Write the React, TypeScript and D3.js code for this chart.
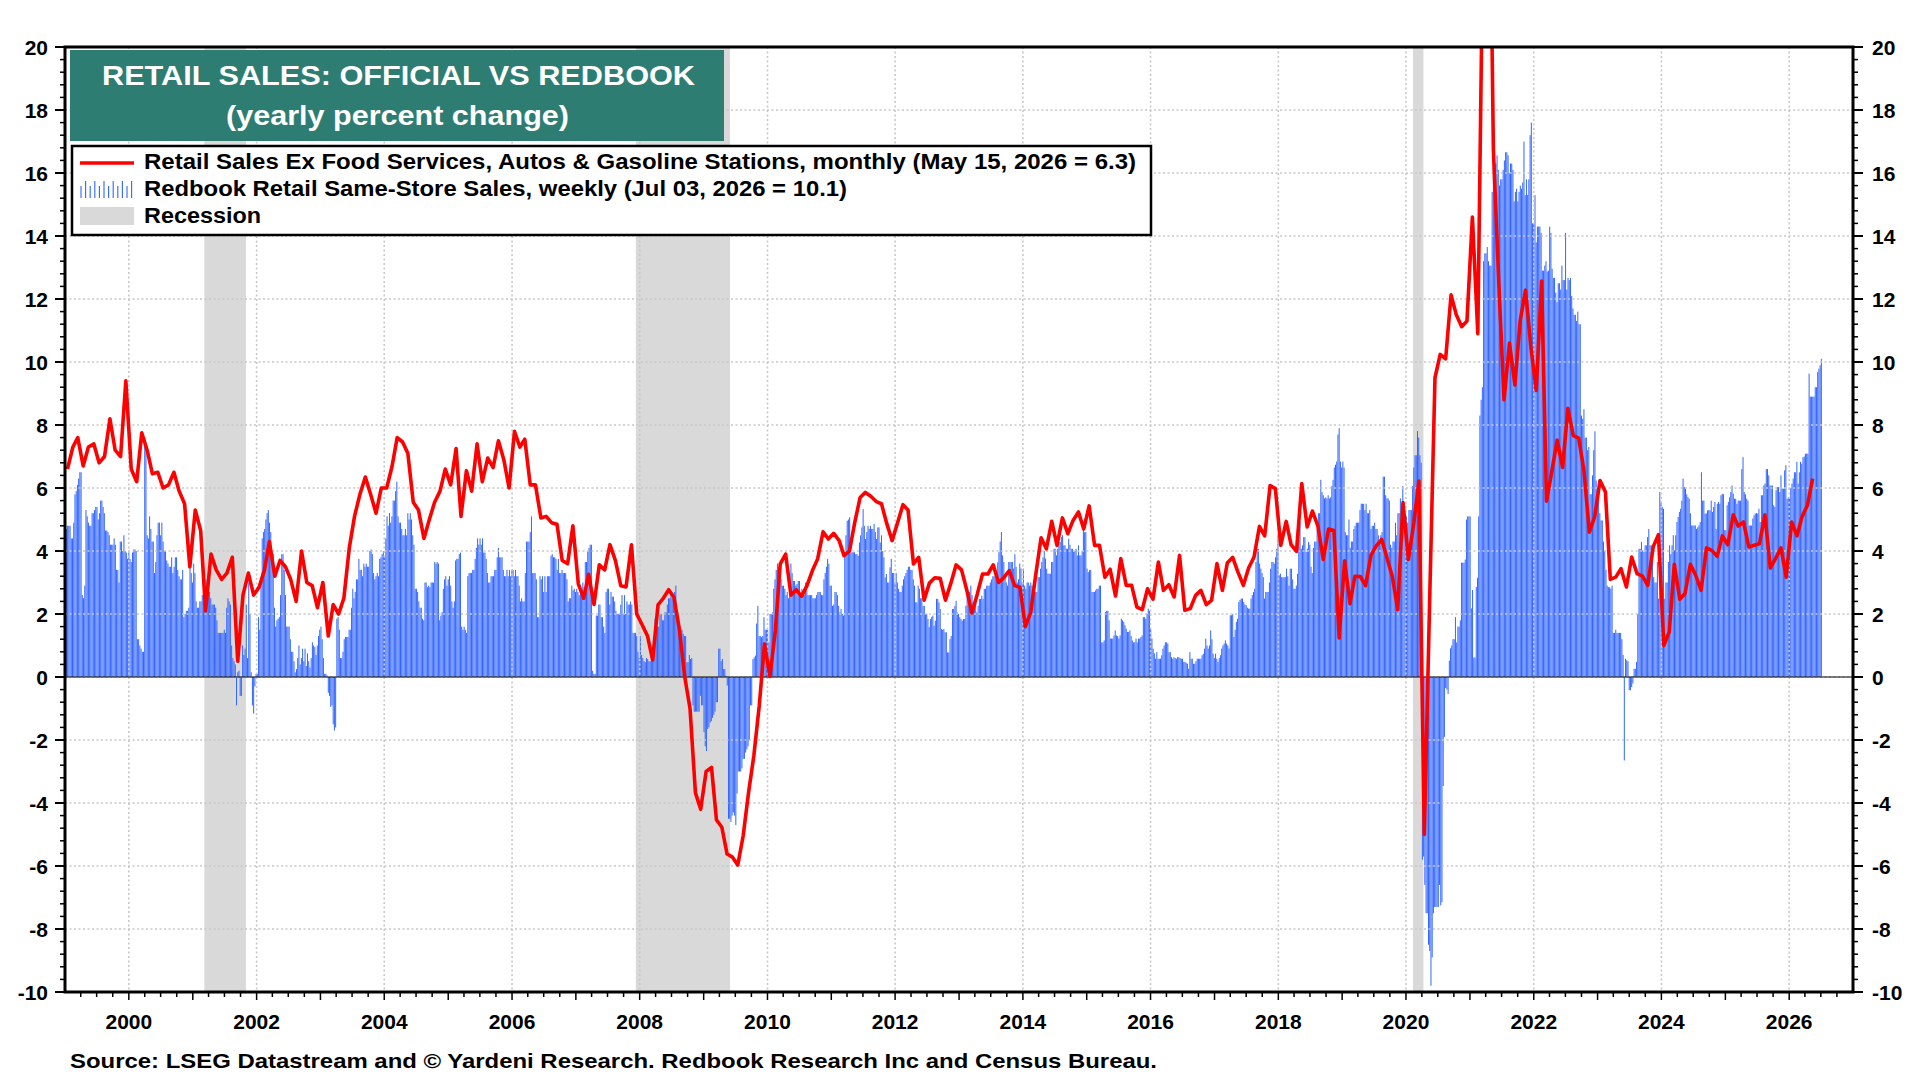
import React, { useRef, useEffect } from "react";
import * as d3 from "d3";

// Retail Sales ex food services, autos & gasoline stations, y/y %, one row per year (Jan..Dec)
const retailYears = d3.range(1999, 2027);
const retailMonthly: number[][] = [
  [6.6, 7.3, 7.6, 6.7, 7.3, 7.4, 6.8, 7.0, 8.2, 7.2, 7.0, 9.4],
  [6.6, 6.2, 7.75, 7.2, 6.45, 6.5, 6.0, 6.1, 6.5, 5.9, 5.5, 3.5],
  [5.3, 4.65, 2.1, 3.9, 3.4, 3.1, 3.3, 3.8, 0.5, 2.6, 3.3, 2.6],
  [2.85, 3.4, 4.3, 3.2, 3.7, 3.5, 3.1, 2.4, 4.0, 3.0, 2.9, 2.2],
  [3.0, 1.3, 2.3, 2.0, 2.5, 4.1, 5.1, 5.8, 6.35, 5.8, 5.2, 6.0],
  [6.0, 6.7, 7.6, 7.46, 7.1, 5.55, 5.3, 4.4, 5.0, 5.55, 5.9, 6.6],
  [6.1, 7.25, 5.1, 6.55, 5.9, 7.4, 6.2, 6.95, 6.65, 7.5, 6.9, 6.0],
  [7.8, 7.3, 7.55, 6.1, 6.1, 5.05, 5.1, 4.9, 4.85, 3.7, 3.6, 4.8],
  [2.96, 2.5, 3.26, 2.3, 3.56, 3.4, 4.2, 3.7, 2.9, 2.86, 4.2, 2.0],
  [1.66, 1.3, 0.54, 2.29, 2.5, 2.77, 2.53, 1.52, 0.0, -1.0, -3.68, -4.2],
  [-3.0, -2.87, -4.53, -4.77, -5.62, -5.72, -5.97, -5.04, -3.66, -2.5, -0.91, 1.05],
  [0.02, 1.47, 3.59, 3.9, 2.6, 2.77, 2.56, 2.9, 3.38, 3.75, 4.61, 4.38],
  [4.56, 4.33, 3.85, 4.0, 4.9, 5.7, 5.86, 5.74, 5.57, 5.5, 4.86, 4.33],
  [4.9, 5.47, 5.3, 3.59, 3.8, 2.44, 2.98, 3.15, 3.13, 2.44, 2.98, 3.56],
  [3.4, 2.74, 2.03, 2.63, 3.27, 3.27, 3.56, 3.0, 3.16, 3.38, 2.9, 2.85],
  [1.6, 2.06, 3.23, 4.42, 4.07, 4.94, 4.18, 5.05, 4.55, 4.97, 5.24, 4.7],
  [5.43, 4.18, 4.18, 3.17, 3.42, 2.57, 3.76, 2.91, 2.91, 2.22, 2.14, 2.8],
  [2.47, 3.65, 2.75, 2.93, 2.54, 3.86, 2.12, 2.17, 2.59, 2.75, 2.3, 2.43],
  [3.6, 2.75, 3.62, 3.8, 3.33, 2.91, 3.46, 3.81, 4.78, 4.48, 6.08, 5.98],
  [4.18, 4.94, 4.2, 3.99, 6.14, 4.76, 5.27, 4.8, 3.73, 4.7, 4.65, 1.24],
  [3.69, 2.33, 3.2, 3.19, 2.9, 3.87, 4.16, 4.37, 3.77, 3.19, 2.14, 5.54],
  [3.73, 4.9, 6.22, -5.0, 2.3, 9.5, 10.24, 10.1, 12.13, 11.5, 11.12, 11.3],
  [14.6, 10.9, 23.0, 30.0, 16.75, 12.5, 8.8, 10.6, 9.27, 11.3, 12.28, 10.5],
  [9.1, 12.57, 5.58, 6.55, 7.52, 6.65, 8.53, 7.66, 7.58, 6.56, 4.6, 5.08],
  [6.24, 5.87, 3.1, 3.17, 3.44, 2.86, 3.81, 3.28, 3.2, 2.91, 4.13, 4.52],
  [1.0, 1.43, 3.58, 2.47, 2.65, 3.58, 3.23, 2.75, 4.1, 4.02, 3.83, 4.48],
  [4.2, 5.15, 4.79, 4.92, 4.13, 4.18, 4.23, 5.15, 3.46, 3.76, 4.1, 3.17],
  [4.92, 4.48, 5.08, 5.45, 6.3],
];

// Redbook same-store sales, y/y %, one row per year, one value per Saturday
const redbookYears = d3.range(1999, 2027);
const redbookWeekly: number[][] = [
  [4.5, 4.7, 4.8, 4.8, 4.8, 4.4, 4.4, 4.9, 5.8, 5.9, 6.1, 6.3, 6.5, 6.5, 2.6, 2.5, 2.9, 5.3, 5.1, 4.9, 4.8, 4.8, 5.2, 5.2, 5.3, 5.4,
    5.4, 5.0, 5.2, 5.6, 5.6, 5.4, 5.2, 4.65, 4.65, 4.6, 4.5, 4.2, 4.2, 4.2, 4.4, 4.2, 3.4, 3.4, 3.0, 4.3, 4.3, 4.0, 4.5, 4.0, 3.95, 3.75],
  [3.95, 3.75, 3.65, 3.95, 4.05, 4.05, 4.0, 1.2, 1.2, 1.0, 0.9, 0.8, 0.8, 7.6, 7.4, 4.5, 4.4, 5.1, 4.7, 4.3, 4.3, 3.3, 3.65, 4.5, 4.9, 4.9,
    4.5, 4.9, 4.3, 4.0, 4.0, 3.7, 3.6, 3.5, 3.5, 3.8, 3.3, 3.5, 3.8, 3.8, 3.4, 3.2, 3.1, 3.1, 3.4, 1.9, 2.0, 2.1, 2.1, 2.2, 3.6, 3.3, 3.0],
  [3.6, 3.3, 2.4, 2.2, 2.2, 2.4, 2.4, 2.6, 2.8, 2.9, 3.1, 3.0, 2.8, 2.7, 2.5, 2.3, 2.3, 2.3, 2.2, 1.8, 1.4, 1.4, 1.4, 1.4, 1.4, 1.5,
    1.4, 2.2, 2.5, 2.4, 2.3, 1.0, 0.6, 0.5, 0.4, -0.9, 0.15, 0.2, -0.6, -0.6, 1.0, 0.7, 0.9, 2.3, 0.6, 3.0, 2.0, 0.15, -0.9, -1.16, -0.3, 0.1],
  [0.1, 1.9, 1.5, 3.0, 4.4, 4.6, 4.7, 5.0, 5.2, 5.3, 4.9, 4.6, 3.9, 3.9, 2.2, 1.6, 1.8, 1.85, 1.9, 2.6, 3.9, 3.9, 3.4, 2.6, 1.6, 1.6,
    1.6, 1.2, 0.8, 0.8, 0.5, 0.15, 0.25, 0.6, 1.0, 0.4, 0.6, 0.9, 0.5, 0.9, 0.35, 0.75, 0.5, 0.3, 0.6, 1.1, 1.0, 0.95, 0.7, 1.0, 1.3, 1.5],
  [1.6, 1.2, 0.6, 0.1, 0.1, 0.05, -0.5, -0.6, -0.95, -0.9, -1.5, -1.7, -1.6, 1.85, 1.9, 1.5, 0.6, 0.6, 0.8, 1.2, 1.27, 1.27, 1.27, 1.5, 1.5, 2.2,
    2.8, 2.5, 2.7, 3.1, 3.1, 3.75, 3.4, 3.4, 3.2, 3.6, 3.5, 3.6, 3.5, 3.5, 4.0, 4.05, 3.9, 3.3, 3.1, 3.2, 3.3, 3.2, 3.75, 3.8, 3.9, 4.0],
  [3.8, 4.4, 5.1, 4.8, 5.2, 4.9, 5.1, 5.6, 5.6, 5.9, 6.2, 5.1, 4.9, 4.9, 4.7, 4.5, 4.5, 4.7, 4.5, 5.2, 5.0, 5.2, 5.0, 4.5, 4.2, 2.8,
    2.8, 2.7, 2.4, 2.2, 2.2, 1.85, 1.8, 3.0, 3.0, 2.85, 2.9, 2.85, 3.0, 3.0, 3.0, 3.65, 3.6, 3.65, 3.6, 1.8, 1.95, 2.06, 2.8, 3.1, 3.2, 2.9],
  [3.1, 3.2, 2.9, 2.4, 2.2, 2.4, 3.7, 3.75, 3.75, 3.9, 3.95, 1.6, 1.5, 1.6, 1.5, 1.4, 3.2, 3.3, 3.3, 3.3, 3.4, 3.4, 3.75, 4.1, 4.4, 4.2,
    4.4, 4.2, 4.4, 3.95, 3.95, 3.75, 3.3, 3.0, 3.0, 3.2, 3.2, 3.2, 3.4, 3.4, 3.8, 4.1, 3.8, 3.8, 3.8, 3.4, 3.2, 3.2, 3.4, 3.2, 3.4, 3.2, 3.4],
  [3.4, 3.2, 3.4, 3.2, 3.2, 2.9, 2.4, 2.5, 2.4, 2.4, 3.3, 4.3, 4.3, 4.3, 4.6, 5.1, 3.3, 3.3, 3.3, 3.1, 1.9, 1.9, 3.2, 3.1, 3.2, 2.7,
    3.2, 2.7, 3.2, 3.2, 3.2, 3.85, 3.9, 3.8, 3.8, 3.75, 3.4, 3.75, 3.3, 3.3, 3.4, 3.3, 3.3, 3.3, 3.1, 2.4, 2.5, 2.5, 2.9, 2.75, 2.8, 2.7],
  [2.8, 2.7, 2.6, 2.7, 2.7, 3.0, 2.85, 3.65, 3.65, 4.0, 4.1, 4.2, 4.2, 0.2, 0.1, 0.1, 1.95, 1.95, 2.3, 2.3, 1.9, 1.9, 1.6, 1.4, 2.7, 2.8,
    2.8, 2.3, 2.7, 2.55, 2.55, 2.4, 2.1, 2.0, 2.0, 2.0, 2.3, 2.6, 2.0, 2.6, 2.0, 2.4, 2.3, 2.3, 2.4, 2.3, 1.4, 1.4, 1.4, 1.3, 0.8, 0.6],
  [1.3, 0.7, 0.6, 0.5, 0.47, 0.6, 0.57, 0.5, 0.5, 0.55, 0.7, 1.0, 1.85, 1.9, 1.6, 1.6, 2.0, 2.0, 1.8, 1.8, 2.05, 2.05, 2.3, 2.5, 2.5, 2.6,
    2.5, 2.6, 2.7, 2.9, 1.85, 1.6, 1.6, 1.5, 1.5, 1.37, 1.3, 1.3, 0.47, 0.47, 0.7, 0.57, 0.6, -0.9, -1.1, -1.1, -1.1, -1.1, -1.1, -0.6, -0.9, -0.9],
  [-1.75, -2.2, -2.35, -1.65, -1.6, -1.45, -1.4, -1.3, -1.2, -1.1, -0.8, -0.8, 0.9, 0.9, 0.5, 0.57, 0.25, 0.25, 0.04, -0.27, -4.5, -4.5, -4.6, -4.4, -4.3, -4.4,
    -4.7, -3.7, -3.0, -3.0, -3.0, -2.9, -2.6, -2.6, -2.4, -2.3, -2.2, -2.0, -0.9, -0.9, 0.57, 0.62, 0.68, 1.7, 2.26, 1.3, 1.3, 1.26, 1.3, 1.9, 1.5, 1.5],
  [1.5, 1.1, 2.0, 2.0, 2.05, 2.8, 3.1, 3.4, 3.6, 3.5, 3.3, 3.1, 2.9, 2.9, 2.8, 2.6, 2.7, 2.5, 2.9, 3.6, 3.3, 3.05, 3.05, 2.9, 2.95, 3.05,
    3.05, 2.6, 2.8, 2.7, 2.6, 3.0, 2.75, 2.6, 2.6, 2.6, 2.6, 2.5, 2.5, 2.5, 2.6, 2.7, 2.7, 2.7, 2.6, 2.6, 3.1, 3.3, 3.5, 3.75, 3.6, 2.9],
  [2.9, 2.26, 2.3, 2.7, 2.7, 2.6, 2.26, 2.05, 2.16, 2.0, 1.95, 3.85, 4.5, 4.96, 5.0, 5.07, 3.96, 3.96, 3.96, 3.96, 3.9, 3.9, 3.85, 4.27, 4.5, 4.75,
    5.33, 4.8, 4.38, 4.6, 4.8, 4.7, 4.8, 4.7, 4.7, 4.86, 4.6, 4.38, 4.75, 4.75, 4.27, 4.5, 4.0, 3.8, 3.16, 3.27, 3.0, 3.0, 3.48, 3.75, 3.3, 3.3, 3.0],
  [3.3, 3.0, 2.8, 2.7, 2.7, 2.9, 3.1, 3.2, 3.3, 3.4, 3.5, 3.5, 3.4, 3.4, 3.1, 2.9, 2.37, 2.37, 2.9, 2.8, 2.5, 2.5, 2.26, 2.26, 2.0, 2.0,
    1.84, 1.58, 1.84, 1.9, 1.95, 1.63, 1.79, 2.48, 2.48, 2.37, 2.16, 1.52, 1.5, 1.52, 1.42, 1.42, 0.78, 0.78, 1.2, 1.3, 2.16, 2.16, 2.26, 2.42, 2.05, 2.0],
  [1.9, 1.84, 1.79, 1.84, 1.84, 2.26, 2.8, 2.7, 2.7, 2.9, 2.6, 2.37, 2.4, 2.37, 2.05, 2.26, 2.48, 2.48, 2.58, 2.48, 2.8, 2.8, 2.9, 2.9, 2.9, 3.0,
    3.1, 3.2, 3.2, 3.38, 3.38, 3.64, 3.96, 4.3, 4.6, 3.86, 3.65, 3.2, 3.0, 2.9, 3.65, 3.65, 3.65, 3.65, 3.44, 3.9, 3.5, 3.0, 3.1, 3.6, 3.44, 3.0],
  [3.44, 2.9, 2.8, 3.0, 3.0, 2.9, 3.0, 2.9, 2.7, 2.7, 2.7, 2.7, 3.17, 3.17, 3.44, 3.65, 3.8, 4.0, 3.76, 3.44, 3.28, 3.28, 3.28, 3.65, 3.65, 4.07,
    4.07, 3.86, 4.07, 4.29, 4.29, 4.44, 4.5, 4.18, 4.18, 4.07, 4.07, 4.39, 4.2, 4.07, 4.07, 3.97, 4.0, 4.07, 3.86, 4.18, 3.86, 3.86, 4.0, 4.7, 4.6, 4.6],
  [3.44, 3.33, 3.39, 3.4, 2.7, 2.7, 2.7, 2.75, 2.8, 2.8, 2.9, 2.9, 1.1, 1.1, 1.16, 2.06, 2.1, 2.1, 1.8, 1.22, 1.22, 1.22, 1.32, 1.48, 1.32, 1.3,
    1.22, 1.32, 1.85, 1.8, 1.75, 1.64, 1.53, 1.43, 1.43, 1.48, 1.3, 1.16, 1.1, 1.1, 1.22, 1.1, 1.22, 1.22, 1.27, 1.32, 1.9, 1.9, 1.85, 2.0, 2.17, 2.1],
  [1.53, 1.22, 0.9, 0.75, 0.58, 0.79, 0.58, 0.58, 0.58, 0.69, 0.9, 1.0, 1.1, 1.1, 1.06, 0.79, 0.79, 0.63, 0.58, 0.63, 0.6, 0.58, 0.63, 0.63, 0.6, 0.58,
    0.58, 0.48, 0.48, 0.45, 0.42, 0.26, 0.79, 0.58, 0.58, 0.42, 0.42, 0.5, 0.58, 0.58, 0.58, 0.58, 0.69, 0.74, 0.9, 1.22, 1.0, 0.9, 1.0, 1.48, 1.2, 0.74, 0.6],
  [0.74, 0.58, 0.48, 0.6, 0.69, 0.9, 1.0, 1.06, 1.16, 1.06, 1.0, 0.9, 1.96, 1.96, 2.0, 1.27, 1.5, 1.75, 1.85, 2.38, 2.45, 2.49, 2.49, 2.38, 2.3, 2.28,
    2.2, 2.17, 2.17, 2.49, 2.6, 2.7, 2.8, 3.65, 4.07, 4.07, 3.6, 3.44, 3.3, 3.17, 2.49, 2.7, 2.7, 2.7, 3.0, 3.44, 3.65, 3.65, 3.6, 3.8, 4.07, 4.5],
  [3.23, 3.28, 3.17, 3.17, 3.17, 3.17, 3.44, 3.2, 2.9, 3.44, 3.44, 3.1, 2.8, 2.8, 2.9, 3.28, 4.92, 4.92, 4.07, 4.18, 4.44, 4.44, 3.97, 4.07, 4.29, 4.2,
    3.5, 3.3, 4.1, 4.3, 4.3, 4.7, 5.2, 5.2, 6.26, 5.87, 5.77, 5.67, 5.7, 5.67, 5.77, 5.67, 5.7, 6.06, 6.26, 6.65, 6.74, 6.84, 7.7, 7.9, 6.84, 6.65],
  [6.84, 6.65, 4.6, 4.5, 4.5, 5.0, 4.1, 4.3, 4.3, 4.7, 4.8, 4.9, 4.9, 4.9, 5.3, 5.5, 5.5, 5.5, 5.3, 5.5, 5.2, 5.2, 5.3, 4.7, 4.8, 4.8,
    4.9, 4.7, 4.7, 4.5, 4.3, 4.5, 4.6, 6.36, 6.36, 5.77, 5.67, 5.67, 5.6, 4.2, 4.1, 4.3, 4.3, 4.9, 4.5, 5.2, 5.2, 5.67, 4.7, 6.06, 5.1, 5.1],
  [5.1, 4.9, 5.3, 5.3, 5.3, 6.06, 6.65, 7.04, 7.04, 7.81, 7.6, 7.04, 6.8, -5.8, -5.7, -6.6, -7.5, -7.5, -8.5, -8.7, -9.8, -8.9, -7.5, -7.3, -7.3, -7.3,
    -7.3, -6.6, -7.25, -7.15, -3.46, -1.9, -0.35, -0.4, -0.54, 0.52, 0.91, 1.0, 1.2, 1.2, 1.9, 1.1, 1.6, 1.6, 1.8, 3.63, 3.63, 3.63, 3.73, 5.0, 5.1, 5.1],
  [5.1, 2.18, 2.76, 0.62, 0.62, 2.86, 3.15, 5.1, 8.3, 8.8, 9.2, 13.2, 13.45, 13.45, 13.65, 13.2, 13.06, 13.06, 15.4, 16.2, 16.3, 16.3, 16.56, 16.1, 15.6, 15.8,
    15.8, 16.1, 16.4, 16.66, 16.66, 16.56, 16.0, 16.3, 16.3, 16.1, 15.1, 15.4, 15.5, 15.1, 15.4, 15.6, 15.5, 15.7, 17.0, 15.3, 15.8, 15.3, 15.8, 17.2, 17.6, 14.4],
  [14.4, 15.3, 13.8, 14.3, 14.3, 14.3, 14.1, 12.9, 12.9, 13.06, 13.2, 12.87, 12.9, 14.3, 14.1, 12.96, 12.67, 12.67, 12.2, 11.9, 12.5, 12.5, 12.3, 13.06, 12.6, 12.6,
    14.1, 12.3, 12.67, 12.6, 12.67, 12.1, 11.7, 11.5, 11.5, 11.3, 11.6, 11.2, 11.2, 8.3, 8.2, 8.5, 7.6, 7.6, 7.2, 7.3, 5.8, 5.8, 6.4, 7.2, 7.8, 6.24, 6.0],
  [6.24, 5.2, 4.97, 4.97, 4.3, 4.0, 3.4, 2.9, 2.85, 2.85, 2.8, 2.9, 1.4, 1.4, 1.5, 1.4, 1.4, 1.4, 1.4, 1.2, 0.7, -2.65, 0.58, 0.53, 0.5, -0.42,
    -0.42, -0.32, -0.21, 0.26, 0.26, 0.48, 2.0, 4.07, 4.07, 4.29, 4.02, 3.97, 4.18, 4.18, 4.44, 4.7, 4.18, 4.18, 4.02, 3.17, 3.0, 3.0, 3.65, 2.49, 5.87, 5.56],
  [5.4, 5.34, 2.49, 3.0, 3.0, 3.65, 4.18, 3.9, 4.18, 4.5, 4.02, 4.5, 4.92, 5.08, 5.24, 5.34, 5.6, 6.3, 6.03, 5.98, 5.8, 5.71, 5.66, 5.2, 4.81, 4.81,
    4.81, 4.81, 4.7, 4.75, 4.81, 4.92, 6.5, 5.6, 5.6, 5.19, 5.19, 5.29, 5.3, 5.29, 5.6, 5.24, 5.4, 5.56, 4.7, 5.5, 5.56, 5.5, 5.77, 5.82, 5.8, 4.66],
  [4.66, 5.45, 5.56, 5.7, 5.87, 6.08, 5.82, 5.66, 5.66, 5.5, 5.6, 5.6, 5.6, 6.6, 6.98, 5.87, 5.8, 5.66, 5.6, 4.81, 4.81, 4.81, 5.03, 5.13, 5.19, 5.2,
    5.19, 5.34, 4.92, 5.77, 5.77, 6.08, 6.14, 6.6, 6.6, 6.4, 6.08, 6.08, 6.08, 5.45, 5.4, 5.93, 6.03, 6.03, 5.87, 6.4, 5.98, 5.98, 6.56, 6.72, 5.66, 5.7],
  [5.66, 6.0, 6.14, 6.3, 6.5, 6.5, 6.83, 6.14, 6.5, 6.83, 6.77, 6.98, 7.0, 7.09, 7.09, 7.09, 9.63, 8.9, 8.9, 8.9, 8.9, 9.2, 9.2, 9.68, 9.79, 9.9, 10.1],
];

const recessions: [string, string][] = [
  ["2001-03-08", "2001-11-01"],
  ["2007-12-10", "2009-06-01"],
  ["2020-02-10", "2020-04-10"],
];

const yTickValues = d3.range(-10, 21, 2);
const yGridValues = d3.range(-8, 20, 2);
const xLabelYears = d3.range(2000, 2027, 2);

const titleLines = ["RETAIL SALES: OFFICIAL VS REDBOOK", "(yearly percent change)"];
const legendLabels = [
  "Retail Sales Ex Food Services, Autos & Gasoline Stations, monthly (May 15, 2026 = 6.3)",
  "Redbook Retail Same-Store Sales, weekly (Jul 03, 2026 = 10.1)",
  "Recession",
];
const sourceText = "Source: LSEG Datastream and \u00A9 Yardeni Research. Redbook Research Inc and Census Bureau.";

const FONT = "'Liberation Sans', Arial, Helvetica, sans-serif";
const W = 1920;
const H = 1080;
const plot = { left: 65, right: 1853, top: 47, bottom: 992 };

const RetailChart = () => {
  const divRef = useRef<HTMLDivElement>(null);

  const createSvg = () => {
    d3.select(divRef.current).selectAll("*").remove();
    return d3
      .select(divRef.current)
      .append("svg")
      .attr("width", W)
      .attr("height", H)
      .attr("style", "position:absolute;left:0;top:0;background:#fff");
  };

  const drawChart = (svg: d3.Selection<SVGSVGElement, unknown, null, undefined>) => {
    const x = d3
      .scaleTime()
      .domain([new Date(1999, 0, 1), new Date(2027, 0, 1)])
      .range([plot.left, plot.right]);
    const y = d3.scaleLinear().domain([-10, 20]).range([plot.bottom, plot.top]);

    const monthly = retailYears.flatMap((yr, i) =>
      (retailMonthly[i] || []).map((v, m) => ({ date: new Date(yr, m, 15), value: v }))
    );
    const weekly = redbookYears.flatMap((yr, i) => {
      const first = d3.timeSaturday.ceil(new Date(yr, 0, 1));
      return (redbookWeekly[i] || []).map((v, k) => ({ date: d3.timeSaturday.offset(first, k), value: v }));
    });

    svg.append("rect").attr("width", W).attr("height", H).attr("fill", "#fff");

    svg
      .append("defs")
      .append("clipPath")
      .attr("id", "plot-clip")
      .append("rect")
      .attr("x", plot.left)
      .attr("y", plot.top)
      .attr("width", plot.right - plot.left)
      .attr("height", plot.bottom - plot.top);

    // recessions
    svg
      .append("g")
      .selectAll("rect")
      .data(recessions)
      .join("rect")
      .attr("x", (d) => x(new Date(d[0])))
      .attr("width", (d) => x(new Date(d[1])) - x(new Date(d[0])))
      .attr("y", plot.top)
      .attr("height", plot.bottom - plot.top)
      .attr("fill", "#d9d9d9");

    // weekly bars
    svg
      .append("g")
      .attr("clip-path", "url(#plot-clip)")
      .selectAll("rect")
      .data(weekly)
      .join("rect")
      .attr("x", (d) => x(d.date) - 0.5)
      .attr("width", 1.0)
      .attr("y", (d) => y(Math.max(0, d.value)))
      .attr("height", (d) => Math.abs(y(d.value) - y(0)))
      .attr("fill", "#3366ff");

    // grid
    const grid = svg
      .append("g")
      .attr("stroke", "#c8c8c8")
      .attr("stroke-width", 1.6)
      .attr("stroke-dasharray", "2,2.5");
    grid
      .selectAll("line.h")
      .data(yGridValues)
      .join("line")
      .attr("class", "h")
      .attr("x1", plot.left)
      .attr("x2", plot.right)
      .attr("y1", (d) => y(d))
      .attr("y2", (d) => y(d));
    grid
      .selectAll("line.v")
      .data(xLabelYears)
      .join("line")
      .attr("class", "v")
      .attr("x1", (d) => x(new Date(d, 0, 1)))
      .attr("x2", (d) => x(new Date(d, 0, 1)))
      .attr("y1", plot.top)
      .attr("y2", plot.bottom);

    // zero line
    svg
      .append("line")
      .attr("x1", plot.left)
      .attr("x2", plot.right)
      .attr("y1", y(0))
      .attr("y2", y(0))
      .attr("stroke", "#000")
      .attr("stroke-width", 1);

    // monthly retail sales line
    const line = d3
      .line<{ date: Date; value: number }>()
      .x((d) => x(d.date))
      .y((d) => y(d.value));
    svg
      .append("path")
      .datum(monthly)
      .attr("clip-path", "url(#plot-clip)")
      .attr("d", line)
      .attr("fill", "none")
      .attr("stroke", "#ff0000")
      .attr("stroke-width", 3.6)
      .attr("stroke-linejoin", "round");

    // frame
    svg
      .append("rect")
      .attr("x", plot.left)
      .attr("y", plot.top)
      .attr("width", plot.right - plot.left)
      .attr("height", plot.bottom - plot.top)
      .attr("fill", "none")
      .attr("stroke", "#000")
      .attr("stroke-width", 3);

    // y ticks both sides
    const minorY = d3.range(-10, 20.01, 0.4).filter((v) => Math.abs(v / 2 - Math.round(v / 2)) > 0.01);
    const ticks = svg.append("g").attr("stroke", "#000").attr("stroke-width", 1.5);
    [
      { x0: plot.left, dir: -1 },
      { x0: plot.right, dir: 1 },
    ].forEach(({ x0, dir }) => {
      ticks
        .append("g")
        .selectAll("line")
        .data(yTickValues)
        .join("line")
        .attr("x1", x0)
        .attr("x2", x0 + dir * 10)
        .attr("y1", (d) => y(d))
        .attr("y2", (d) => y(d))
        .attr("stroke-width", 2);
      ticks
        .append("g")
        .selectAll("line")
        .data(minorY)
        .join("line")
        .attr("x1", x0)
        .attr("x2", x0 + dir * 5)
        .attr("y1", (d) => y(d))
        .attr("y2", (d) => y(d));
    });

    // x ticks: quarters, years longer
    const quarters = d3.timeMonth.every(3)!.range(new Date(1999, 3, 1), new Date(2027, 0, 1));
    ticks
      .append("g")
      .selectAll("line")
      .data(quarters)
      .join("line")
      .attr("x1", (d) => x(d))
      .attr("x2", (d) => x(d))
      .attr("y1", plot.bottom)
      .attr("y2", (d) => plot.bottom + (d.getMonth() === 0 ? 8 : 5));

    const labels = svg
      .append("g")
      .attr("font-family", FONT)
      .attr("font-weight", "bold")
      .attr("font-size", 21)
      .attr("fill", "#000");
    labels
      .selectAll("text.yl")
      .data(yTickValues)
      .join("text")
      .attr("class", "yl")
      .attr("x", 48)
      .attr("y", (d) => y(d) + 7.5)
      .attr("text-anchor", "end")
      .text((d) => d);
    labels
      .selectAll("text.yr")
      .data(yTickValues)
      .join("text")
      .attr("class", "yr")
      .attr("x", 1872)
      .attr("y", (d) => y(d) + 7.5)
      .attr("text-anchor", "start")
      .text((d) => d);
    labels
      .selectAll("text.xl")
      .data(xLabelYears)
      .join("text")
      .attr("class", "xl")
      .attr("x", (d) => x(new Date(d, 0, 1)))
      .attr("y", 1029)
      .attr("text-anchor", "middle")
      .text((d) => d);

    // title box
    svg.append("rect").attr("x", 70).attr("y", 50).attr("width", 654).attr("height", 91).attr("fill", "#2e7d72");
    const title = svg
      .append("g")
      .attr("font-family", FONT)
      .attr("font-weight", "bold")
      .attr("font-size", 28)
      .attr("fill", "#fff")
      .attr("text-anchor", "middle");
    title
      .append("text")
      .attr("x", 398.5)
      .attr("y", 85)
      .attr("textLength", 593)
      .attr("lengthAdjust", "spacingAndGlyphs")
      .text(titleLines[0]);
    title
      .append("text")
      .attr("x", 397.5)
      .attr("y", 125)
      .attr("textLength", 343)
      .attr("lengthAdjust", "spacingAndGlyphs")
      .text(titleLines[1]);

    // legend
    const lg = svg.append("g");
    lg.append("rect")
      .attr("x", 72)
      .attr("y", 146)
      .attr("width", 1079)
      .attr("height", 89)
      .attr("fill", "#fff")
      .attr("stroke", "#000")
      .attr("stroke-width", 2.5);
    lg.append("line")
      .attr("x1", 80)
      .attr("x2", 134)
      .attr("y1", 163)
      .attr("y2", 163)
      .attr("stroke", "#ff0000")
      .attr("stroke-width", 3.6);
    lg.append("g")
      .selectAll("line")
      .data(d3.range(12))
      .join("line")
      .attr("x1", (i) => 81 + i * 4.6)
      .attr("x2", (i) => 81 + i * 4.6)
      .attr("y1", 198)
      .attr("y2", (i) => (i % 2 === 0 ? 186 : 181))
      .attr("stroke", "#3366ff")
      .attr("stroke-width", 1.1);
    lg.append("rect").attr("x", 80).attr("y", 207).attr("width", 54).attr("height", 18).attr("fill", "#d9d9d9");
    const widths = [992, 703, 117];
    lg.append("g")
      .attr("font-family", FONT)
      .attr("font-weight", "bold")
      .attr("font-size", 22)
      .attr("fill", "#000")
      .selectAll("text")
      .data(legendLabels)
      .join("text")
      .attr("x", 144)
      .attr("y", (_, i) => 169 + i * 27)
      .attr("textLength", (_, i) => widths[i])
      .attr("lengthAdjust", "spacingAndGlyphs")
      .text((d) => d);

    svg
      .append("text")
      .attr("x", 70)
      .attr("y", 1068)
      .attr("font-family", FONT)
      .attr("font-weight", "bold")
      .attr("font-size", 21)
      .attr("textLength", 1087)
      .attr("lengthAdjust", "spacingAndGlyphs")
      .text(sourceText);
  };

  useEffect(() => {
    const svg = createSvg();
    drawChart(svg);
  }, []);

  return <div id="retail-redbook-chart" ref={divRef}></div>;
};

export default function App() {
  return <RetailChart />;
}
